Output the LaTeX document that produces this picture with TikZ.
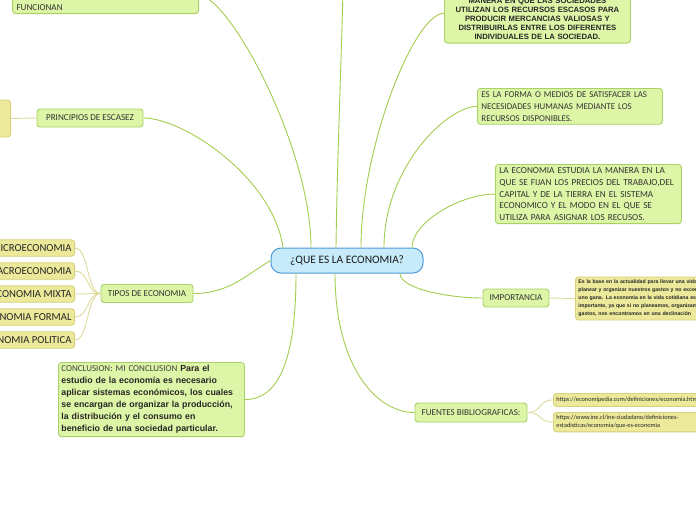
\documentclass[tikz,border=0pt]{standalone}
\usepackage{fontspec}
\setmainfont{Carlito}
\newfontfamily\arialf{Liberation Sans}
\usetikzlibrary{positioning,calc}
\definecolor{leaffill}{HTML}{DDF5A6}
\definecolor{leafline}{HTML}{A8D167}
\definecolor{linkgreen}{HTML}{A3CD4E}
\definecolor{yelfill}{HTML}{EDE99A}
\definecolor{yelline}{HTML}{D5D07C}
\definecolor{linkyel}{HTML}{DEDA9C}
\definecolor{hubfill}{HTML}{C7EBFA}
\definecolor{hubline}{HTML}{4C9AD4}
\tikzset{
  leaf/.style={draw=leafline, fill=leaffill, rounded corners=3pt, line width=0.9pt, inner xsep=4pt, inner ysep=3pt, text=black!80, font=\fontsize{9.1}{12}\selectfont},
  yel/.style={draw=yelline, fill=yelfill, rounded corners=3pt, line width=0.9pt, inner sep=3pt, text=black!85},
  hub/.style={draw=hubline, fill=hubfill, rounded corners=10pt, line width=1pt, minimum width=152pt, minimum height=25pt, font=\fontsize{11.4}{13}\selectfont, text=black!90},
  lnk/.style={draw=linkgreen, line width=0.9pt},
  ylnk/.style={draw=linkyel, line width=0.9pt}
}

\begin{document}
\begin{tikzpicture}[x=1pt, y=-1pt]
  \useasboundingbox (0,0) rectangle (696,520);
  \node[hub] (que) at (347,260.5) {¿QUE ES LA ECONOMIA?};
  % lado izquierdo
  \node[leaf, anchor=south east, text width=178pt, text height=30pt, align=left] (funcionan) at (199,14) {FUNCIONAN};
  \node[leaf, minimum height=18pt, minimum width=106pt] (escasez) at (90,118) {PRINCIPIOS DE ESCASEZ};
  \node[yel, anchor=east, minimum width=40pt, minimum height=37pt] (escasezhoja) at (11,118.5) {};
  \node[leaf, minimum height=18pt, minimum width=92pt] (tipos) at (147,293.5) {TIPOS DE ECONOMIA};
  \foreach \nm/\txt [count=\i] in {micro/MICROECONOMIA, macro/MACROECONOMIA, mixta/ECONOMIA MIXTA, formal/ECONOMIA FORMAL, politica/ECONOMIA POLITICA} {
    \node[yel, anchor=east, minimum height=16.5pt, font=\fontsize{10.7}{12}\selectfont] (\nm) at (75,{225+23*\i}) {\txt};
    \draw[ylnk] (tipos.west) .. controls +(-14,0) and +(14,0) .. (\nm.east);
  }
  \node[leaf, anchor=north west, inner xsep=3pt, text width=180pt, align=left, font=\arialf\bfseries\fontsize{8.8}{12}\selectfont, text=black!85] (conclusion) at (58,362)
    {{\normalfont\fontsize{9}{12}\selectfont\color{black!75}CONCLUSION: MI CONCLUSION} Para el\\estudio de la economía es necesario\\aplicar sistemas económicos, los cuales\\se encargan de organizar la producción,\\la distribución y el consumo en\\beneficio de una sociedad particular.};
  % lado derecho
  \node[leaf, anchor=south west, text width=178pt, align=center, font=\arialf\bfseries\fontsize{7.7}{9}\selectfont, text=black!85] (sociedades) at (444,43.5)
    {MANERA EN QUE LAS SOCIEDADES\\UTILIZAN LOS RECURSOS ESCASOS PARA\\PRODUCIR MERCANCIAS VALIOSAS Y\\DISTRIBUIRLAS ENTRE LOS DIFERENTES\\INDIVIDUALES DE LA SOCIEDAD.};
  \node[leaf, anchor=north west, text width=177pt, align=left, font=\fontsize{8.9}{12}\selectfont] (forma) at (477,88)
    {ES LA FORMA O MEDIOS DE SATISFACER LAS\\NECESIDADES HUMANAS MEDIANTE LOS\\RECURSOS DISPONIBLES.};
  \node[leaf, anchor=north west, text width=178pt, align=left, font=\fontsize{9.2}{11.8}\selectfont] (estudia) at (495,164)
    {LA ECONOMIA ESTUDIA LA MANERA EN LA\\QUE SE FIJAN LOS PRECIOS DEL TRABAJO,DEL\\CAPITAL Y DE LA TIERRA EN EL SISTEMA\\ECONOMICO Y EL MODO EN EL QUE SE\\UTILIZA PARA ASIGNAR LOS RECUSOS.};
  \node[leaf, minimum height=18pt, minimum width=66pt] (importancia) at (516,298) {IMPORTANCIA};
  \node[yel, anchor=west, text width=200pt, align=left, minimum height=43pt, font=\arialf\bfseries\fontsize{5.2}{8}\selectfont] (vida) at (575,298.5)
    {Es la base en la actualidad para llevar una vida\\planear y organizar nuestros gastos y no exceder\\uno gana. La economia en la vida cotidiana es\\importante, ya que si no planeamos, organizamos\\gastos, nos encontramos en una declinación};
  \node[leaf, minimum height=19pt, minimum width=112pt] (fuentes) at (471,412.5) {FUENTES BIBLIOGRAFICAS:};
  \node[yel, anchor=north west, text width=150pt, align=left, minimum height=13pt, font=\fontsize{6.3}{8}\selectfont] (url1) at (553,393)
    {https://economipedia.com/definiciones/economia.html};
  \node[yel, anchor=north west, text width=150pt, align=left, font=\fontsize{6.3}{8}\selectfont] (url2) at (553,412)
    {https://www.ine.cl/ine-ciudadano/definiciones-\\estadisticas/economia/que-es-economia};
  \coordinate (arriba) at (343,-10);
  % ramas
  \draw[lnk] (funcionan.east) .. controls +(30,0) and +(0,-100) .. ($(que.north)+(-36,0)$);
  \draw[lnk] (escasez.east) .. controls +(40,0) and +(-10,-70) .. ($(que.north)+(-64,0)$);
  \draw[lnk] (arriba) .. controls +(-2,80) and +(1,-80) .. ($(que.north)+(-11,0)$);
  \draw[lnk] ($(sociedades.west)+(0,-6)$) .. controls +(-30,0) and +(0,-100) .. ($(que.north)+(14,0)$);
  \draw[lnk] (forma.west) .. controls +(-30,0) and +(0,-80) .. ($(que.north)+(37,0)$);
  \draw[lnk] (estudia.west) .. controls +(-35,0) and +(0,-25) .. ($(que.north)+(65,0)$);
  \draw[lnk] (que.west) .. controls +(-25,15) and +(35,0) .. (tipos.east);
  \draw[lnk] ($(que.south)+(-51,0)$) .. controls +(0,70) and +(40,0) .. (conclusion.east);
  \draw[lnk] ($(que.south)+(-12,0)$) .. controls +(0,90) and +(-40,0) .. (fuentes.west);
  \draw[lnk] ($(que.south)+(53,0)$) .. controls +(0,15) and +(-35,0) .. (importancia.west);
  \draw[ylnk] (escasez.west) -- (escasezhoja.east);
  \draw[ylnk] (importancia.east) -- (vida.west);
  \draw[ylnk] (fuentes.east) .. controls +(15,0) and +(-15,0) .. (url1.west);
  \draw[ylnk] (fuentes.east) .. controls +(15,0) and +(-15,0) .. (url2.west);
\end{tikzpicture}
\end{document}
